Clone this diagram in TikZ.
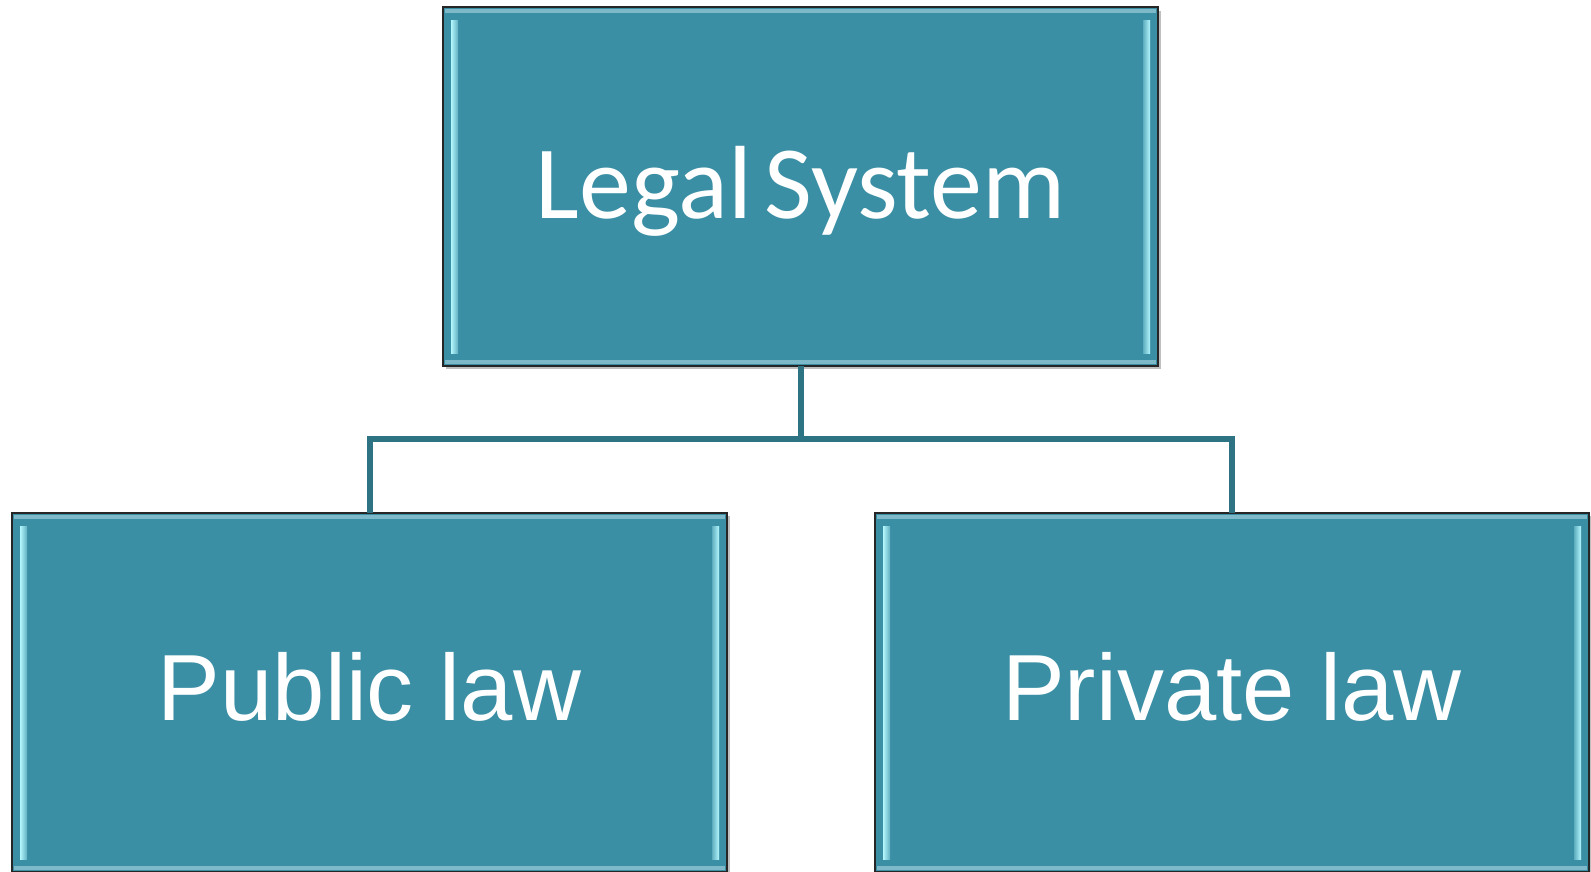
\documentclass[tikz,border=0pt]{standalone}
\usepackage{fontspec}
\setmainfont{Liberation Sans}
\newfontfamily\calib{Carlito}
\definecolor{tealfill}{HTML}{3B8FA5}
\definecolor{tealline}{HTML}{2E7384}
\definecolor{bevlight}{HTML}{B4F7FF}
\definecolor{bevtop}{HTML}{7DB9C8}
\tikzset{
  bbox/.style={draw=black!85, line width=1.4pt, fill=tealfill, text=white,
    inner sep=0pt, outer sep=0pt},
  conn/.style={draw=tealline, line width=6pt},
  shadowbox/.style={fill=black!25},
}
\begin{document}
\begin{tikzpicture}[x=1pt,y=-1pt]
\useasboundingbox (0,0) rectangle (1591,871);
% shadows
\fill[shadowbox] (446,11) rectangle (1161,369);
\fill[shadowbox] (15,516) rectangle (730,875);
\fill[shadowbox] (878,516) rectangle (1592,875);
% boxes
\node[bbox, minimum width=715pt, minimum height=359pt, text height=64pt, text depth=0pt,
  font=\calib\fontsize{104}{104}\selectfont] (top) at (800.5,186.5) {Legal\hspace{0.12em}System};
\node[bbox, minimum width=715pt, minimum height=359pt, text height=68pt, text depth=12pt,
  font=\fontsize{94}{94}\selectfont] (pub) at (369.5,692.5) {Public law};
\node[bbox, minimum width=714pt, minimum height=359pt, text height=68pt, text depth=12pt,
  font=\fontsize{94}{94}\selectfont] (priv) at (1232,692.5) {Private law};
% bevels
\foreach \n in {top,pub,priv}{
  \fill[bevtop] ([xshift=2pt,yshift=-2pt]\n.north west) rectangle ([xshift=-2pt,yshift=-6pt]\n.north east);
  \fill[bevtop] ([xshift=2pt,yshift=2pt]\n.south west) rectangle ([xshift=-2pt,yshift=6pt]\n.south east);
  \shade[left color=bevlight, right color=tealfill!70!bevlight]
    ([xshift=8pt,yshift=-13pt]\n.north west) rectangle ([xshift=15pt,yshift=13pt]\n.south west);
  \shade[right color=bevlight, left color=tealfill!70!bevlight]
    ([xshift=-15pt,yshift=-13pt]\n.north east) rectangle ([xshift=-8pt,yshift=13pt]\n.south east);
}
% connectors
\coordinate (hub) at (800.5,439);
\draw[conn] (top.south) -- (hub);
\draw[conn] ([xshift=3pt]hub) -| (pub.north);
\draw[conn] ([xshift=-3pt]hub) -| (priv.north);
\end{tikzpicture}
\end{document}
